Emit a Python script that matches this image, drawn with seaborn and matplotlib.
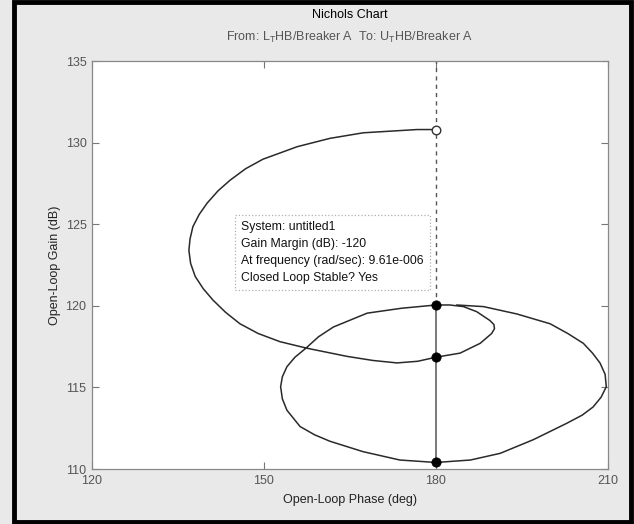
import numpy as np
import pandas as pd
import matplotlib
matplotlib.use("Agg")
import matplotlib.pyplot as plt
from matplotlib.patches import Rectangle
import seaborn as sns

# Respuesta en frecuencia (fase, ganancia)
fase = [180.0, 176.7, 172.0, 167.3, 161.5, 155.8, 149.8, 146.8, 144.1, 142.0,
        140.1, 138.7, 137.6, 137.1, 136.9, 137.2, 138.0, 139.4, 141.1, 143.3,
        145.8, 149.0, 152.8, 157.5, 164.5, 169.0, 173.2, 176.8, 180.0, 184.2,
        187.7, 189.7, 190.2, 190.1, 189.4, 187.1, 184.8, 182.4, 180.0, 174.0,
        168.0, 162.1, 159.5, 157.3, 155.4, 154.0, 153.2, 152.9, 153.2, 154.0,
        156.3, 158.8, 161.5, 167.3, 173.7, 180.0, 186.0, 191.2, 197.0, 202.8,
        205.5, 207.4, 208.8, 209.7, 209.5, 208.6, 207.3, 205.7, 203.0, 199.9,
        194.1, 188.3, 183.6]
ganancia = [130.8, 130.8, 130.7, 130.6, 130.26, 129.75, 128.98, 128.4, 127.7, 127.05,
            126.3, 125.6, 124.85, 124.1, 123.4, 122.6, 121.8, 121.05, 120.35, 119.6,
            118.9, 118.3, 117.8, 117.4, 116.9, 116.65, 116.5, 116.6, 116.85, 117.1,
            117.7, 118.3, 118.6, 118.85, 119.1, 119.64, 119.95, 120.05, 120.05, 119.85,
            119.55, 118.7, 118.1, 117.4, 116.85, 116.27, 115.65, 115.04, 114.3, 113.6,
            112.6, 112.1, 111.7, 111.06, 110.55, 110.4, 110.55, 110.96, 111.8, 112.8,
            113.3, 113.8, 114.4, 115.04, 115.8, 116.5, 117.1, 117.7, 118.3, 118.9,
            119.5, 119.95, 120.05]

# Puntos de margen de ganancia
margen_fase = [180, 180, 180]
margen_ganancia = [120.05, 116.85, 110.4]
inicio_fase = [180]
inicio_ganancia = [130.8]

xticks = [120, 150, 180, 210]
yticks = [110, 115, 120, 125, 130, 135]

sns.set_theme(style="white")
plt.rcParams['font.family'] = ['Liberation Sans', 'DejaVu Sans']
plt.rcParams['mathtext.fontset'] = 'custom'
plt.rcParams['mathtext.rm'] = 'Liberation Sans'

fondo = "#e9e9e9"
fig = plt.figure(figsize=(6.34, 5.24), dpi=100, facecolor=fondo)
ax = fig.add_axes([92 / 634, 1 - 469 / 524, 516 / 634, 408 / 524])
ax.set_facecolor("white")

# marco negro de la captura
fig.patches.append(Rectangle((14 / 634, 2 / 524), 617 / 634, 520 / 524,
                             transform=fig.transFigure, fill=False,
                             edgecolor="black", linewidth=3.5))

df = pd.DataFrame({"fase": fase, "ganancia": ganancia})
sns.lineplot(data=df, x="fase", y="ganancia", sort=False, estimator=None,
             color="#2a2a2a", linewidth=1.1, ax=ax)

# lineas verticales del margen
ax.plot([180, 180], [margen_ganancia[2], margen_ganancia[0]], color="#555555", lw=1.1)
ax.plot([180, 180], [margen_ganancia[0], 135], color="#555555", lw=1.0, ls=(0, (3, 3)))

sns.scatterplot(x=margen_fase, y=margen_ganancia, color="black", s=45,
                edgecolor="black", zorder=5, ax=ax)
sns.scatterplot(x=inicio_fase, y=inicio_ganancia, facecolor="white", s=38,
                edgecolor="#333333", linewidth=1.0, zorder=5, ax=ax)

ax.set_xlim(120, 210)
ax.set_ylim(110, 135)
ax.set_xticks(xticks)
ax.set_yticks(yticks)
ax.tick_params(direction="in", length=5, width=0.8, colors="#777777",
               labelcolor="#555555", labelsize=9, top=True, right=True,
               bottom=True, left=True, pad=4)
for s in ax.spines.values():
    s.set_color("#888888")
    s.set_linewidth(0.9)

ax.set_xlabel("Open-Loop Phase (deg)", fontsize=9, color="#222222", labelpad=5)
ax.set_ylabel("Open-Loop Gain (dB)", fontsize=9, color="#222222", labelpad=3)

fig.text(350 / 634, 1 - 15 / 524, "Nichols Chart", ha="center", va="center",
         fontsize=9, color="black")
fig.text(350 / 634, 1 - 37 / 524,
         r"From: L$_{\mathrm{T}}$HB/Breaker A  To: U$_{\mathrm{T}}$HB/Breaker A",
         ha="center", va="center", fontsize=9, color="#555555")

texto = ("System: untitled1\nGain Margin (dB): -120\n"
         "At frequency (rad/sec): 9.61e-006\nClosed Loop Stable? Yes")
ax.text(146.0, 125.2, texto, ha="left", va="top", fontsize=8.8,
        color="#111111", linespacing=1.55, zorder=6,
        bbox=dict(boxstyle="square,pad=0.5", facecolor="white",
                  edgecolor="#b0b0b0", linestyle=":", linewidth=0.9))

fig.savefig("out.png", dpi=100, facecolor=fondo)
